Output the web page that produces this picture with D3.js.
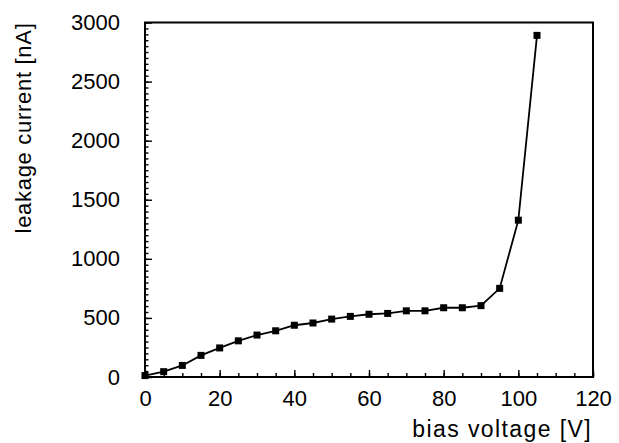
<!DOCTYPE html>
<html>
<head>
<meta charset="utf-8">
<script src="https://cdn.jsdelivr.net/npm/d3@7"></script>
<style>
  html, body { margin: 0; padding: 0; background: #fff; }
  svg { display: block; }
  text { font-family: "Liberation Sans", Arial, Helvetica, sans-serif; fill: #000; }
</style>
</head>
<body>
<script>
// Bias voltage sweep (V) and measured leakage current (nA)
const biasVoltage = [0, 5, 10, 15, 20, 25, 30, 35, 40, 45, 50, 55, 60, 65, 70, 75, 80, 85, 90, 95, 100, 105];
const leakageCurrent = [12, 45, 98, 183, 246, 306, 355, 391, 438, 457, 490, 513, 531, 538, 560, 560, 586, 586, 604, 750, 1327, 2891];

const xTickLabels = [0, 20, 40, 60, 80, 100, 120];
const yTickLabels = [0, 500, 1000, 1500, 2000, 2500, 3000];

const xLabel = "bias voltage [V]";
const yLabel = "leakage current [nA]";

const W = 619, H = 443;
const plotLeft = 145, plotRight = 593, plotTop = 22.5, plotBottom = 377;

const svg = d3.select("body").append("svg")
  .attr("width", W).attr("height", H);

const x = d3.scaleLinear().domain([0, 120]).range([plotLeft, plotRight]);
const y = d3.scaleLinear().domain([0, 3000]).range([plotBottom, plotTop]);

// Inward minor ticks
svg.append("g")
  .attr("transform", `translate(0,${plotBottom})`)
  .call(d3.axisBottom(x).tickValues(d3.range(0, 121, 5)).tickSize(-4).tickFormat(""))
  .call(g => g.select(".domain").remove())
  .selectAll("line").attr("stroke", "#000").attr("stroke-width", 1.4);

svg.append("g")
  .attr("transform", `translate(${plotLeft},0)`)
  .call(d3.axisLeft(y).tickValues(d3.range(0, 3001, 50)).tickSize(-3.5).tickFormat(""))
  .call(g => g.select(".domain").remove())
  .selectAll("line").attr("stroke", "#000").attr("stroke-width", 1.4);

// Major ticks with labels
svg.append("g")
  .attr("transform", `translate(0,${plotBottom})`)
  .call(d3.axisBottom(x).tickValues(xTickLabels).tickSize(-7).tickPadding(13).tickFormat(d3.format("d")))
  .call(g => g.select(".domain").remove())
  .call(g => g.selectAll("line").attr("stroke", "#000").attr("stroke-width", 1.4))
  .call(g => g.selectAll("text").attr("font-size", 22).attr("font-family", "Liberation Sans, Arial, sans-serif").attr("fill", "#000"));

svg.append("g")
  .attr("transform", `translate(${plotLeft},0)`)
  .call(d3.axisLeft(y).tickValues(yTickLabels).tickSize(-7).tickPadding(25).tickFormat(d3.format("d")))
  .call(g => g.select(".domain").remove())
  .call(g => g.selectAll("line").attr("stroke", "#000").attr("stroke-width", 1.4))
  .call(g => g.selectAll("text").attr("font-size", 22).attr("font-family", "Liberation Sans, Arial, sans-serif").attr("fill", "#000"));

// Plot frame
svg.append("rect")
  .attr("x", plotLeft).attr("y", plotTop)
  .attr("width", plotRight - plotLeft).attr("height", plotBottom - plotTop)
  .attr("fill", "none").attr("stroke", "#000").attr("stroke-width", 2);

const pts = biasVoltage.map((v, i) => [v, leakageCurrent[i]]);

// Connecting line
svg.append("path")
  .datum(pts)
  .attr("fill", "none")
  .attr("stroke", "#000")
  .attr("stroke-width", 1.8)
  .attr("d", d3.line().x(d => x(d[0])).y(d => y(d[1])));

// Square markers
const m = 7;
svg.append("g").selectAll("rect")
  .data(pts)
  .join("rect")
  .attr("x", d => x(d[0]) - m / 2)
  .attr("y", d => y(d[1]) - m / 2)
  .attr("width", m).attr("height", m)
  .attr("fill", "#000");

// Axis titles
svg.append("text")
  .attr("x", 592).attr("y", 437)
  .attr("text-anchor", "end")
  .attr("font-size", 23)
  .attr("letter-spacing", 1.4)
  .text(xLabel);

svg.append("text")
  .attr("transform", "translate(31,128) rotate(-90)")
  .attr("text-anchor", "middle")
  .attr("font-size", 22)
  .attr("letter-spacing", 0.7)
  .text(yLabel);
</script>
</body>
</html>
